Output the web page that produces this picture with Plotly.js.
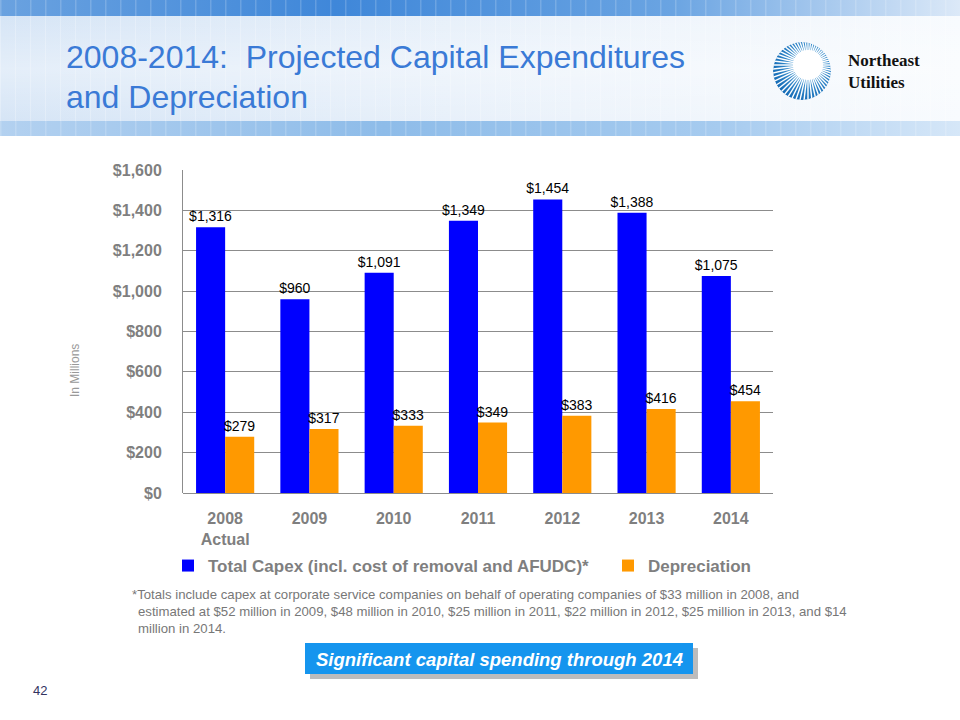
<!DOCTYPE html>
<html>
<head>
<meta charset="utf-8">
<script src="https://cdn.plot.ly/plotly-3.0.1.min.js"></script>
<style>html,body{margin:0;padding:0;background:#fff;}#chart{width:960px;height:720px;}</style>
</head>
<body>
<div id="chart"></div>
<script>
// ---- data ----
const years = ['2008', '2009', '2010', '2011', '2012', '2013', '2014'];
const yearLabels = ['2008<br>Actual', '2009', '2010', '2011', '2012', '2013', '2014'];
const capex = [1316, 960, 1091, 1349, 1454, 1388, 1075];
const depreciation = [279, 317, 333, 349, 383, 416, 454];
const seriesNames = ['Total Capex (incl. cost of removal and AFUDC)*', 'Depreciation'];
const yTicks = [0, 200, 400, 600, 800, 1000, 1200, 1400, 1600];
const yTickText = yTicks.map(v => '$' + v.toLocaleString('en-US'));

// ---- pixel helpers for decoration ----
const L = 183, R = 773, T = 170, B = 493;
const PW = R - L, PH = B - T;
const px = x => (x - L) / PW;
const py = y => (B - y) / PH;

// banner SVG (background only, no text)
let tiles = '';
for (let x = 0; x < 960; x += 15) {
  tiles += `<rect x="${x}" y="0" width="1.5" height="16" fill="#ffffff" opacity="0.18"/>`;
  tiles += `<rect x="${x}" y="121" width="1.5" height="15" fill="#ffffff" opacity="0.18"/>`;
  tiles += `<rect x="${x}" y="16" width="1" height="105" fill="#ffffff" opacity="0.25"/>`;
}
let rays = '';
const cx = 808, cy = 65;
for (let i = 0; i < 56; i++) {
  const a = i * (360 / 56) * Math.PI / 180;
  rays += `<line x1="${cx}" y1="${cy}" x2="${(cx + 60 * Math.cos(a)).toFixed(1)}" y2="${(cy + 60 * Math.sin(a)).toFixed(1)}" stroke="#ffffff" stroke-width="1.4"/>`;
}
const svg = `<svg xmlns="http://www.w3.org/2000/svg" width="960" height="137" viewBox="0 0 960 137">
<defs>
<linearGradient id="top" x1="0" x2="1" y1="0" y2="0">
<stop offset="0" stop-color="#6aa2e0"/><stop offset="0.35" stop-color="#3f87d9"/><stop offset="0.7" stop-color="#6aa4e2"/><stop offset="1" stop-color="#dce9f8"/>
</linearGradient>
<linearGradient id="mid" x1="0" x2="1" y1="0" y2="0">
<stop offset="0" stop-color="#d6e5f6"/><stop offset="0.6" stop-color="#ecf3fb"/><stop offset="1" stop-color="#f8fbfe"/>
</linearGradient>
<linearGradient id="midv" x1="0" x2="0" y1="0" y2="1">
<stop offset="0" stop-color="#ffffff" stop-opacity="0.0"/><stop offset="0.5" stop-color="#ffffff" stop-opacity="0.35"/><stop offset="1" stop-color="#ffffff" stop-opacity="0.0"/>
</linearGradient>
<linearGradient id="bot" x1="0" x2="1" y1="0" y2="0">
<stop offset="0" stop-color="#b3d1f0"/><stop offset="0.4" stop-color="#8ebce9"/><stop offset="0.75" stop-color="#a6cbef"/><stop offset="1" stop-color="#d6e7f8"/>
</linearGradient>
<radialGradient id="logo" cx="0.6" cy="0.4" r="0.7">
<stop offset="0" stop-color="#5aaee2"/><stop offset="1" stop-color="#0d64b2"/>
</radialGradient>
<clipPath id="cc"><circle cx="802" cy="71" r="29"/></clipPath>
</defs>
<rect x="0" y="0" width="960" height="16" fill="url(#top)"/>
<rect x="0" y="16" width="960" height="105" fill="url(#mid)"/>
<rect x="0" y="16" width="960" height="105" fill="url(#midv)"/>
<rect x="0" y="121" width="960" height="15" fill="url(#bot)"/>
${tiles}
<g clip-path="url(#cc)">
<circle cx="802" cy="71" r="29" fill="url(#logo)"/>
${rays}
</g>
<circle cx="${cx}" cy="${cy}" r="15" fill="#ffffff"/>
</svg>`;
const svgUri = 'data:image/svg+xml;charset=utf-8,' + encodeURIComponent(svg);

const gray = '#7f7f7f';
const annFont = 'Liberation Sans, Arial, sans-serif';
const labelFont = {family: annFont, size: 14, color: '#000000'};

const traces = [
  {
    type: 'bar', x: years, y: capex, name: seriesNames[0], legend: 'legend',
    marker: {color: '#0000ff'},
    texttemplate: '$%{y:,}', textposition: 'outside', cliponaxis: false, constraintext: 'none',
    textfont: labelFont
  },
  {
    type: 'bar', x: years, y: depreciation, name: seriesNames[1], legend: 'legend2',
    marker: {color: '#ff9900'},
    texttemplate: '$%{y:,}', textposition: 'outside', cliponaxis: false, constraintext: 'none',
    textfont: labelFont
  }
];

const legendFont = {family: annFont, size: 17, color: gray, weight: 'bold'};
const layout = {
  width: 960, height: 720,
  margin: {l: L, r: 960 - R, t: T, b: 720 - B, pad: 0},
  paper_bgcolor: '#ffffff', plot_bgcolor: 'rgba(0,0,0,0)',
  barmode: 'group', bargap: 0.31, bargroupgap: 0,
  showlegend: true,
  hovermode: false,
  font: {family: annFont},
  xaxis: {
    type: 'category', tickvals: years, ticktext: yearLabels,
    showgrid: false, zeroline: false, showline: false, ticks: '',
    ticklabelstandoff: 14,
    tickfont: {family: annFont, size: 16, color: gray, weight: 'bold'},
    fixedrange: true
  },
  yaxis: {
    range: [0, 1600], tickmode: 'array', tickvals: yTicks, ticktext: yTickText,
    showgrid: true, gridcolor: '#8c8c8c', gridwidth: 1,
    zeroline: true, zerolinecolor: '#8c8c8c', zerolinewidth: 1,
    showline: true, linecolor: '#8c8c8c', linewidth: 1,
    ticks: '', ticklabelstandoff: 17,
    tickfont: {family: annFont, size: 16, color: gray, weight: 'bold'},
    fixedrange: true
  },
  legend: {
    orientation: 'h', x: px(168), y: py(566), xanchor: 'left', yanchor: 'middle',
    itemwidth: 30, font: legendFont, bgcolor: 'rgba(0,0,0,0)'
  },
  legend2: {
    orientation: 'h', x: px(608), y: py(566), xanchor: 'left', yanchor: 'middle',
    itemwidth: 30, font: legendFont, bgcolor: 'rgba(0,0,0,0)'
  },
  images: [{
    source: svgUri, xref: 'paper', yref: 'paper',
    x: px(0), y: py(0), sizex: 960 / PW, sizey: 137 / PH,
    xanchor: 'left', yanchor: 'top', sizing: 'stretch', layer: 'below'
  }],
  shapes: [
    {type: 'rect', xref: 'paper', yref: 'paper', x0: px(310), x1: px(698), y0: py(648), y1: py(679),
      fillcolor: '#bcbcbc', line: {width: 0}},
    {type: 'rect', xref: 'paper', yref: 'paper', x0: px(305), x1: px(693), y0: py(643), y1: py(674),
      fillcolor: '#1595ee', line: {width: 0}}
  ],
  annotations: [
    {text: '2008-2014:  Projected Capital Expenditures', xref: 'paper', yref: 'paper',
      x: px(64), y: py(57), xanchor: 'left', yanchor: 'middle', showarrow: false,
      font: {family: annFont, size: 32, color: '#3a7ad6'}},
    {text: 'and Depreciation', xref: 'paper', yref: 'paper',
      x: px(64), y: py(97), xanchor: 'left', yanchor: 'middle', showarrow: false,
      font: {family: annFont, size: 32, color: '#3a7ad6'}},
    {text: 'Northeast<br>Utilities', xref: 'paper', yref: 'paper',
      x: px(846), y: py(71), xanchor: 'left', yanchor: 'middle', align: 'left', showarrow: false,
      font: {family: 'Liberation Serif, serif', size: 17, color: '#111111', weight: 'bold'}},
    {text: 'In Millions', xref: 'paper', yref: 'paper',
      x: px(75), y: py(371), xanchor: 'center', yanchor: 'middle', textangle: -90, showarrow: false,
      font: {family: annFont, size: 12, color: '#999999'}},
    {text: '*Totals include capex at corporate service companies on behalf of operating companies of $33 million in 2008, and',
      xref: 'paper', yref: 'paper', x: px(130), y: py(594), xanchor: 'left', yanchor: 'middle', showarrow: false,
      font: {family: annFont, size: 13.2, color: '#777777'}},
    {text: 'estimated at $52 million in 2009, $48 million in 2010, $25 million in 2011, $22 million in 2012, $25 million in 2013, and $14',
      xref: 'paper', yref: 'paper', x: px(136), y: py(611), xanchor: 'left', yanchor: 'middle', showarrow: false,
      font: {family: annFont, size: 13.2, color: '#777777'}},
    {text: 'million in 2014.',
      xref: 'paper', yref: 'paper', x: px(136), y: py(628), xanchor: 'left', yanchor: 'middle', showarrow: false,
      font: {family: annFont, size: 13.2, color: '#777777'}},
    {text: '<i>Significant capital spending through 2014</i>',
      xref: 'paper', yref: 'paper', x: px(499), y: py(659), xanchor: 'center', yanchor: 'middle', showarrow: false,
      font: {family: annFont, size: 18.5, color: '#ffffff', weight: 'bold'}},
    {text: '42', xref: 'paper', yref: 'paper', x: px(31), y: py(690), xanchor: 'left', yanchor: 'middle', showarrow: false,
      font: {family: annFont, size: 13, color: '#33335f'}}
  ]
};

Plotly.newPlot('chart', traces, layout, {displayModeBar: false, staticPlot: true});
</script>
</body>
</html>
